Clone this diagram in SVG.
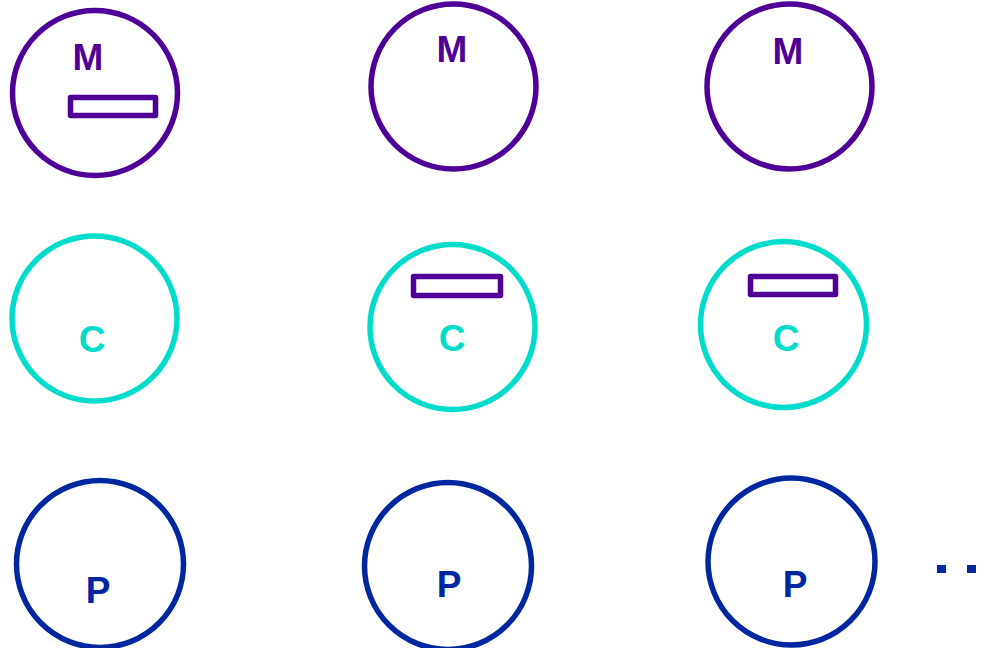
<svg xmlns="http://www.w3.org/2000/svg" width="995" height="648" viewBox="0 0 995 648">
<style>
.m{fill:none;stroke:#4f0096;stroke-width:5.5}
.c{fill:none;stroke:#00dccb;stroke-width:5.5}
.p{fill:none;stroke:#0027a0;stroke-width:5.5}
.r{fill:none;stroke:#4f0096;stroke-width:5.5;stroke-linejoin:round}
text{font-family:"Liberation Sans",Arial,sans-serif;font-weight:bold;font-size:37px;text-anchor:middle}
.tm{fill:#4f0096}.tc{fill:#00dccb}.tp{fill:#0027a0}
</style>
<rect width="995" height="648" fill="#fff"/>
<g id="m1"><circle class="m" cx="95" cy="93" r="82.5"/><rect class="r" x="70.5" y="97.5" width="85" height="18"/><text class="tm" x="88" y="70">M</text></g>
<g id="m2"><circle class="m" cx="453.5" cy="86.5" r="82.5"/><text class="tm" x="452" y="62">M</text></g>
<g id="m3"><circle class="m" cx="789.5" cy="86.5" r="82.5"/><text class="tm" x="788" y="64">M</text></g>
<g id="c1"><circle class="c" cx="94.5" cy="318.5" r="82.5"/><text class="tc" x="92" y="352">C</text></g>
<g id="c2"><circle class="c" cx="452.5" cy="327" r="82.5"/><rect class="r" x="413.5" y="276.5" width="87" height="19"/><text class="tc" x="452" y="351">C</text></g>
<g id="c3"><circle class="c" cx="783.5" cy="324.5" r="83"/><rect class="r" x="750.5" y="276.5" width="85" height="18"/><text class="tc" x="786" y="351">C</text></g>
<g id="p1"><circle class="p" cx="100" cy="564" r="83.5"/><text class="tp" x="98" y="603">P</text></g>
<g id="p2"><circle class="p" cx="448" cy="566" r="83.5"/><text class="tp" x="449" y="597">P</text></g>
<g id="p3"><circle class="p" cx="791.5" cy="561.5" r="83.5"/><text class="tp" x="795" y="597">P</text></g>
<g id="dots" fill="#0027a0"><rect x="937" y="565" width="9" height="8"/><rect x="967" y="565" width="9" height="8"/></g>
<g id="connectors"/>
</svg>
